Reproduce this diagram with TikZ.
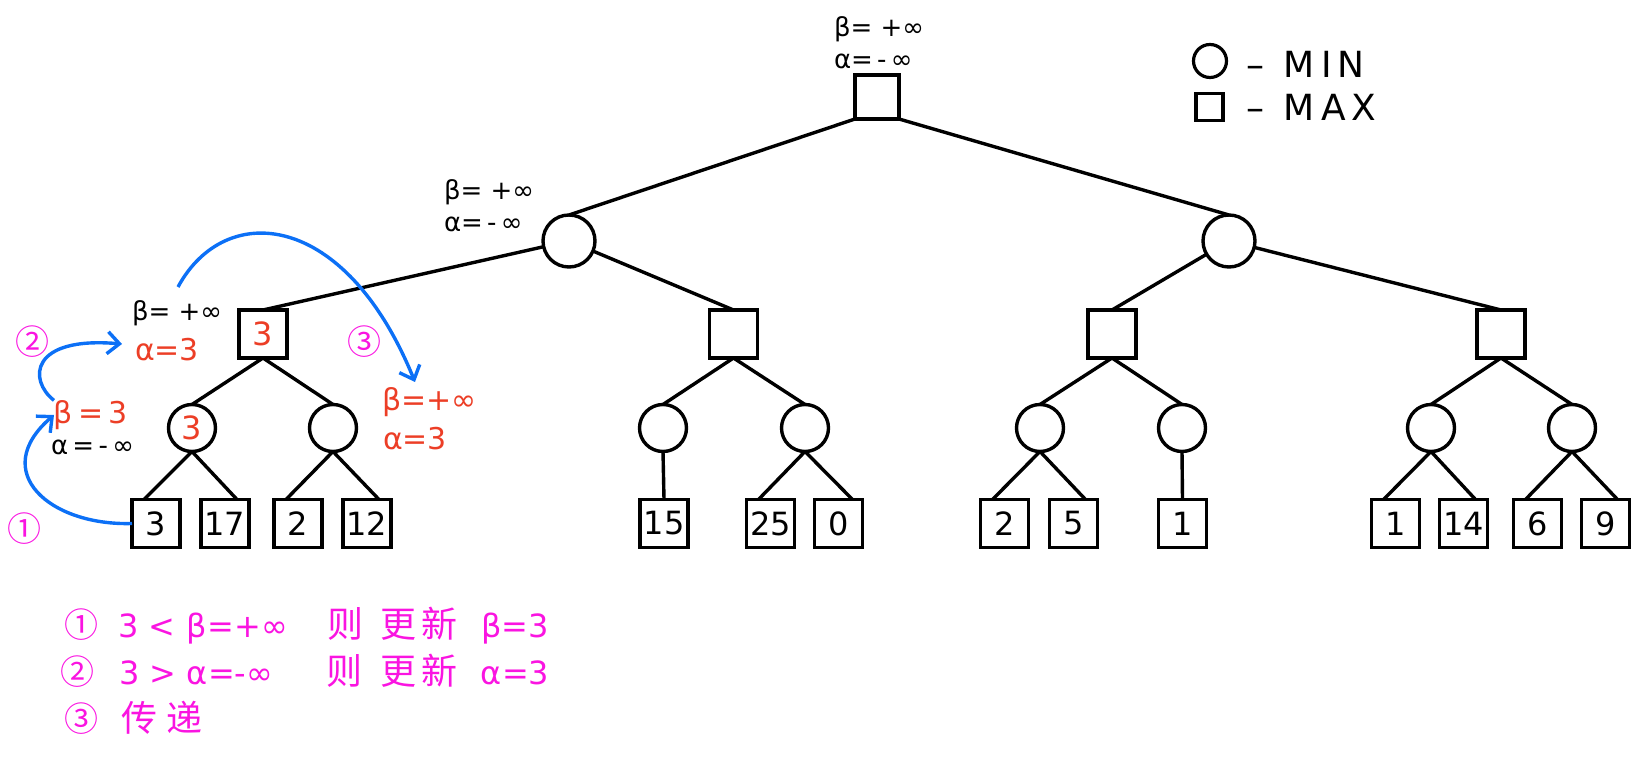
\documentclass[tikz,border=0pt]{standalone}
\usepackage{fontspec}
\setmainfont{DejaVu Sans}
\newfontfamily\cjk{Noto Sans CJK SC}
\usetikzlibrary{arrows.meta,shapes.geometric}
\definecolor{hred}{RGB}{236,62,38}
\definecolor{hmag}{RGB}{250,20,225}
\definecolor{hblue}{RGB}{12,112,246}
\newcommand{\hcell}[2]{\makebox[#1][l]{#2}}
\newcommand{\cnum}[1]{{\cjk\fontsize{17}{17}\selectfont #1}}
\newcommand{\hz}[1]{{\cjk\fontsize{18}{18}\selectfont #1}}
\begin{document}
\begin{tikzpicture}[x=0.5pt,y=-0.5pt,
  every node/.style={inner sep=0pt,outer sep=0pt},
  edge/.style={line width=1.7pt,black},
  maxsq/.style={draw,line width=1.7pt,rectangle,minimum size=24pt,font=\fontsize{16}{16}\selectfont},
  leaf/.style={maxsq},
  rootsq/.style={maxsq,minimum size=22pt},
  minc/.style={draw,line width=1.7pt,circle,minimum size=23.5pt,font=\fontsize{16}{16}\selectfont},
  topc/.style={minc,minimum size=26pt},
  lbl/.style={font=\fontsize{13}{13}\selectfont,anchor=west},
  rlbl/.style={lbl,text=hred,font=\fontsize{15}{15}\selectfont},
  mnum/.style={text=hmag},
  barrow/.style={line width=1.7pt,hblue,-{Straight Barb[length=6pt,width=11pt]}},
  note/.style={anchor=west,text=hmag,font=\fontsize{16}{16}\selectfont},
  legtxt/.style={anchor=west,font=\fontsize{18}{18}\selectfont}
]
\path[use as bounding box] (0,0) rectangle (1649,769);

% tree nodes
\node[rootsq] (root) at (877,97) {};
\node[topc] (A) at (569,241) {};
\node[topc] (B) at (1229,241) {};
\node[maxsq,text=hred] (A1) at (263,334) {3};
\node[maxsq] (A2) at (733.5,334) {};
\node[maxsq] (B1) at (1112,334) {};
\node[maxsq] (B2) at (1501,334) {};
\node[minc,text=hred] (A1a) at (192,428) {3};
\node[minc] (A1b) at (333,428) {};
\node[minc] (A2a) at (663,428) {};
\node[minc] (A2b) at (805,428) {};
\node[minc] (B1a) at (1040,428) {};
\node[minc] (B1b) at (1182,428) {};
\node[minc] (B2a) at (1431,428) {};
\node[minc] (B2b) at (1572,428) {};
\node[leaf] (L1) at (156,523.5) {3};
\node[leaf] (L2) at (225,523.5) {17};
\node[leaf] (L3) at (298,523.5) {2};
\node[leaf] (L4) at (367,523.5) {12};
\node[leaf] (L5) at (664,523.5) {15};
\node[leaf] (L6) at (770.5,523.5) {25};
\node[leaf] (L7) at (838.5,523.5) {0};
\node[leaf] (L8) at (1004.5,523.5) {2};
\node[leaf] (L9) at (1073.5,523.5) {5};
\node[leaf] (L10) at (1182.5,523.5) {1};
\node[leaf] (L11) at (1395.5,523.5) {1};
\node[leaf] (L12) at (1463.5,523.5) {14};
\node[leaf] (L13) at (1537.5,523.5) {6};
\node[leaf] (L14) at (1605.5,523.5) {9};

% edges
\draw[edge] (root.south west) -- (A.north);
\draw[edge] (root.south east) -- (B.north);
\draw[edge] (A) -- (A1.north);
\draw[edge] (A) -- (A2.north);
\draw[edge] (B) -- (B1.north);
\draw[edge] (B) -- (B2.north);
\foreach \p/\c in {A1/A1a,A1/A1b,A2/A2a,A2/A2b,B1/B1a,B1/B1b,B2/B2a,B2/B2b}
  \draw[edge] (\p.south) -- (\c.north);
\foreach \c/\l/\s in {A1a/L1/-6pt,A1a/L2/6pt,A1b/L3/-6pt,A1b/L4/6pt,A2b/L6/-6pt,A2b/L7/7pt,B1a/L8/-6pt,B1a/L9/6pt,B2a/L11/-6pt,B2a/L12/6pt,B2b/L13/-6pt,B2b/L14/6pt}
  \draw[edge] (\c.south) -- ([xshift=\s]\l.north);
\draw[edge] (A2a.south) -- (L5.north);
\draw[edge] (B1b.south) -- (L10.north);

% labels
\node[lbl] (rootb) at (834,29) {β= +∞};
\node[lbl] (roota) at (834,61) {α=\,-\,∞};
\node[lbl] (Ab) at (444,192) {β= +∞};
\node[lbl] (Aa) at (444,224) {α=\,-\,∞};
\node[lbl] (A1bl) at (132,313) {β= +∞};
\node[rlbl] (A1al) at (135,350) {α=3};
\node[rlbl] (A1abl) at (54,415) {β\,=\,3};
\node[lbl] (A1aal) at (51,447) {α\,=\,-\,∞};
\node[rlbl] (pb) at (382,402) {β=+∞};
\node[rlbl] (pa) at (383,439) {α=3};

% magenta step numbers
\node[mnum] (n1) at (24,529) {\cnum{①}};
\node[mnum] (n2) at (32,342) {\cnum{②}};
\node[mnum] (n3) at (364,342) {\cnum{③}};

% blue arrows
\coordinate (e2) at (122,344);
\coordinate (e3) at (415,382);
\coordinate (s3) at (178,287);
\draw[barrow] (L1.west) .. controls (50,526) and (-12,472) .. (A1abl.west);
\draw[barrow] (A1abl.north west) .. controls (28,380) and (30,336) .. (e2);
\draw[barrow] (s3) .. controls (225,200) and (345,210) .. (e3);

% legend
\node[draw,circle,line width=1.6pt,minimum size=16.5pt] (legc) at (1210,61) {};
\node[draw,rectangle,line width=1.6pt,minimum size=13.5pt] (legs) at (1209.5,107) {};
\node[legtxt] (legmin) at (1246,64) {–\hspace{10pt}M\,I\,N};
\node[legtxt] (legmax) at (1246,107) {–\hspace{10pt}M\,A\,X};

% notes
\node[note] (note1) at (64,626) {\hcell{27pt}{\cnum{①}}\hcell{15.5pt}{3}\hcell{19pt}{<}\hcell{70pt}{β=+∞}\hcell{27pt}{\hz{则}}\hcell{20.5pt}{\hz{更}}\hcell{29.5pt}{\hz{新}}β=3};
\node[note] (note2) at (61,671) {\hcell{29pt}{\cnum{②}}\hcell{15.5pt}{3}\hcell{18.5pt}{>}\hcell{70pt}{α=-∞}\hcell{27pt}{\hz{则}}\hcell{20.5pt}{\hz{更}}\hcell{29.5pt}{\hz{新}}α=3};
\node[note] (note3) at (64,718) {\hcell{28.5pt}{\cnum{③}}\hcell{23pt}{\hz{传}}\hz{递}};
\end{tikzpicture}
\end{document}
